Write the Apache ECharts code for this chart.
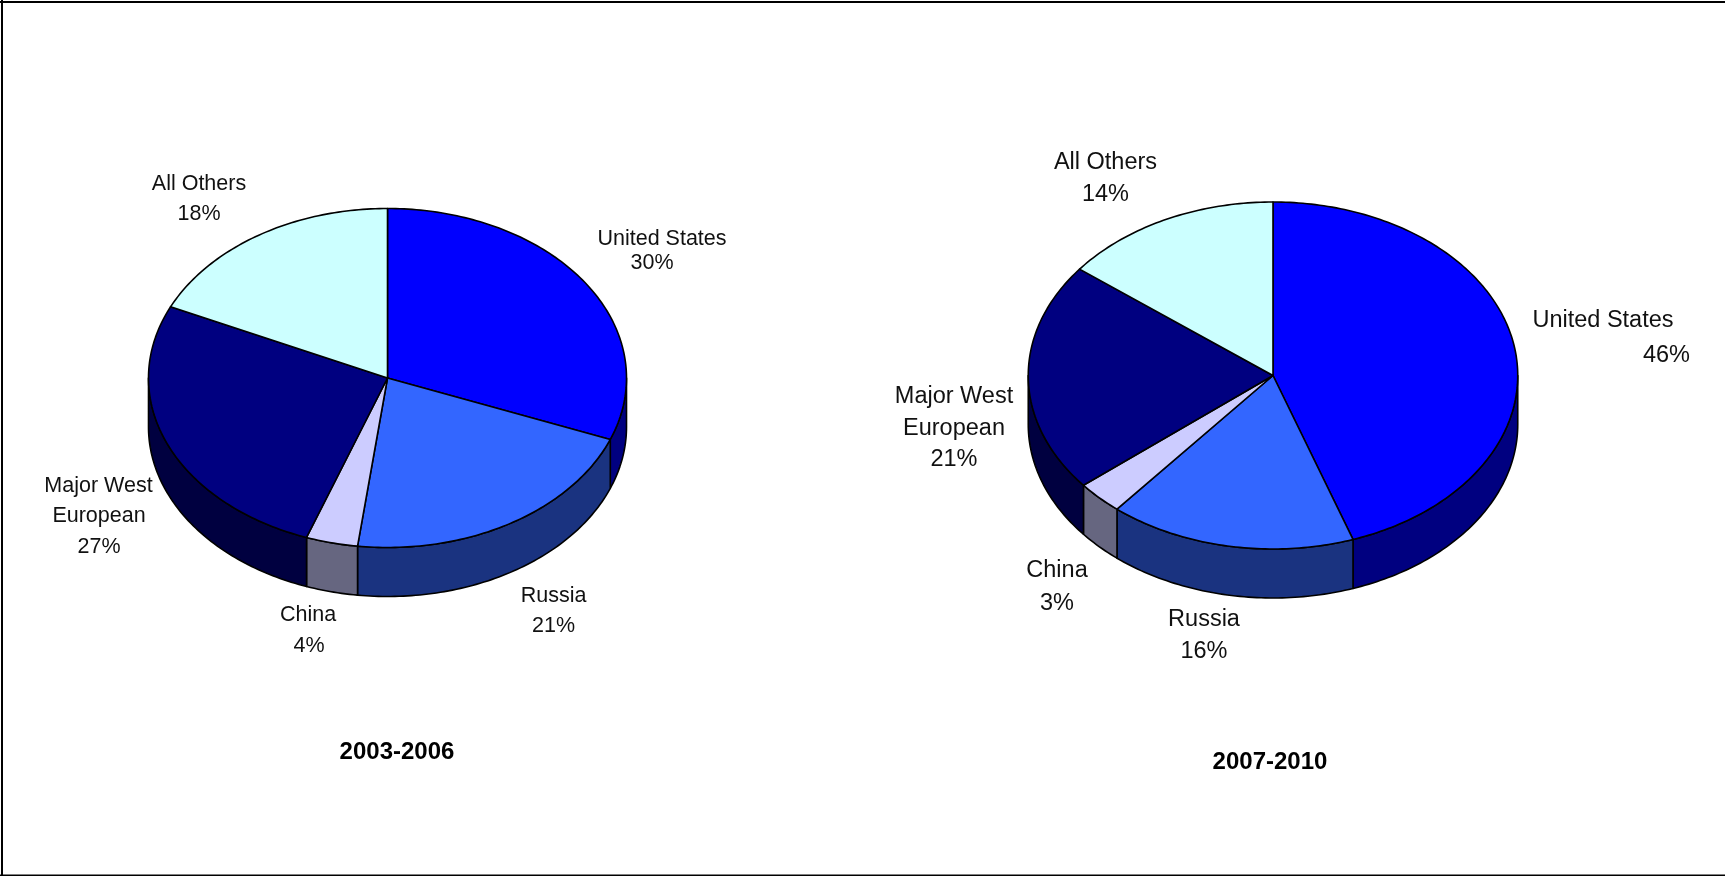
<!DOCTYPE html>
<html>
<head>
<meta charset="utf-8">
<style>html,body{margin:0;padding:0;background:#fff}#c{width:1725px;height:876px}</style>
<script src="https://cdn.jsdelivr.net/npm/echarts@6/dist/echarts.min.js"></script>
</head>
<body>
<div id="c"></div>
<script>
// Slice order runs clockwise from 12 o'clock
const categories = ['United States', 'Russia', 'China', 'Major West European', 'All Others'];
// Printed percentages
const printed2003 = ['30%', '21%', '4%', '27%', '18%'];
const printed2007 = ['46%', '16%', '3%', '21%', '14%'];
const drawn2003 = [30.9, 21.1, 3.5, 26.4, 18.1];
const drawn2007 = [44.7, 16.3, 3.1, 21.4, 14.5];
const periodNames = ['2003-2006', '2007-2010'];

const topColors = ['#0000FF', '#3366FF', '#CCCCFF', '#000080', '#CCFFFF'];
const wallColors = ['#000080', '#1A3380', '#666680', '#000040', '#668080'];

const layouts = [
  { cx: 387.5, cy: 378, rx: 239, ry: 169.5, depth: 49 },
  { cx: 1273, cy: 375.5, rx: 244.75, ry: 173.5, depth: 49 }
];

function pt(l, deg, dy) {
  const a = deg * Math.PI / 180;
  return [l.cx + l.rx * Math.sin(a), l.cy - l.ry * Math.cos(a) + (dy || 0)];
}
function arc(l, a0, a1, dy) {
  const out = [];
  const n = Math.max(2, Math.ceil(Math.abs(a1 - a0)));
  for (let i = 0; i <= n; i++) out.push(pt(l, a0 + (a1 - a0) * i / n, dy));
  return out;
}
const edge = { stroke: '#000', lineWidth: 1.6, lineJoin: 'round' };

function pieSeries(values, l) {
  const total = values.reduce((a, b) => a + b, 0);
  return {
    type: 'custom',
    coordinateSystem: 'none',
    silent: true,
    animation: false,
    data: values.map((v, i) => ({ name: categories[i], value: [v] })),
    renderItem: function (params, api) {
      const i = params.dataIndex;
      let before = 0;
      for (let k = 0; k < i; k++) before += values[k];
      const a0 = before / total * 360;
      const a1 = (before + api.value(0)) / total * 360;
      const children = [];
      const w0 = Math.max(a0, 90), w1 = Math.min(a1, 270);
      if (w1 > w0) {
        const pts = arc(l, w0, w1, 0).concat(arc(l, w1, w0, l.depth));
        children.push({
          type: 'polygon',
          shape: { points: pts },
          style: Object.assign({ fill: wallColors[i] }, edge)
        });
      }
      const top = [[l.cx, l.cy]].concat(arc(l, a0, a1, 0));
      children.push({
        type: 'polygon',
        shape: { points: top },
        style: Object.assign({ fill: topColors[i] }, edge)
      });
      return { type: 'group', children: children };
    }
  };
}

// One entry per printed line: text, x, y, size, align
const leftSize = 21.5, rightSize = 23.5;
const labelLines = [
  ['All Others', 199, 184, leftSize, 'center'], [printed2003[4], 199, 214, leftSize, 'center'],
  ['United States', 662, 239, leftSize, 'center'], [printed2003[0], 652, 263, leftSize, 'center'],
  ['Major West', 98.5, 486, leftSize, 'center'], ['European', 99, 516, leftSize, 'center'], [printed2003[3], 99, 547, leftSize, 'center'],
  ['China', 308, 615, leftSize, 'center'], [printed2003[2], 309, 646, leftSize, 'center'],
  ['Russia', 553.5, 596, leftSize, 'center'], [printed2003[1], 553.5, 626, leftSize, 'center'],
  ['All Others', 1105.5, 163, rightSize, 'center'], [printed2007[4], 1105.5, 195, rightSize, 'center'],
  ['United States', 1603, 321, rightSize, 'center'], [printed2007[0], 1690, 356, rightSize, 'right'],
  ['Major West', 954, 397, rightSize, 'center'], ['European', 954, 429, rightSize, 'center'], [printed2007[3], 954, 460, rightSize, 'center'],
  ['China', 1057, 571, rightSize, 'center'], [printed2007[2], 1057, 604, rightSize, 'center'],
  ['Russia', 1204, 620, rightSize, 'center'], [printed2007[1], 1204, 652, rightSize, 'center']
];
const font = '"Liberation Sans", Arial, sans-serif';
const graphics = labelLines.map(t => ({
  type: 'text', x: t[1], y: t[2], silent: true,
  style: { text: t[0], fontFamily: font, fontSize: t[3], fill: '#111', align: t[4], verticalAlign: 'middle' }
}));
[[periodNames[0], 397, 752], [periodNames[1], 1270, 762]].forEach(t => graphics.push({
  type: 'text', x: t[1], y: t[2], silent: true,
  style: { text: t[0], fontFamily: font, fontSize: 24, fontWeight: 'bold', fill: '#000', align: 'center', verticalAlign: 'middle' }
}));
// Frame: top, left and bottom rules
[[0, 2, 1725, 2], [2, 0, 2, 876], [0, 875.5, 1725, 875.5]].forEach(s => graphics.push({
  type: 'line', silent: true, shape: { x1: s[0], y1: s[1], x2: s[2], y2: s[3] },
  style: { stroke: '#000', lineWidth: 2 }
}));

const chart = echarts.init(document.getElementById('c'), null, { renderer: 'canvas' });
chart.setOption({
  backgroundColor: '#fff',
  animation: false,
  series: [pieSeries(drawn2003, layouts[0]), pieSeries(drawn2007, layouts[1])],
  graphic: graphics
});
</script>
</body>
</html>
